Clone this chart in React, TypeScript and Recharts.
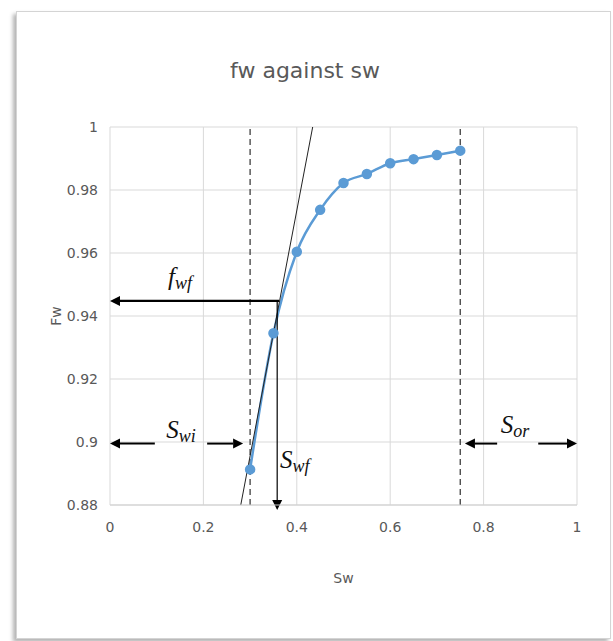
import {
  LineChart,
  Line,
  XAxis,
  YAxis,
  CartesianGrid,
  ReferenceLine,
  ReferenceDot,
  Label,
} from 'recharts';

// water saturation and fractional flow
const swValues = [0.3, 0.35, 0.4, 0.45, 0.5, 0.55, 0.6, 0.65, 0.7, 0.75];
const fwValues = [0.8913, 0.9345, 0.9604, 0.9737, 0.9822, 0.9851, 0.9885, 0.9898, 0.9911, 0.9925];

const xTicks = [0, 0.2, 0.4, 0.6, 0.8, 1];
const yTicks = [0.88, 0.9, 0.92, 0.94, 0.96, 0.98, 1];

// Swi and Sor marks
const dashedX = [0.3, 0.75];

// tangent from Swi through the front point
const tangentFrom = { x: 0.28, y: 0.88 };
const tangentTo = { x: 0.434, y: 1 };

// arrows: [fromX, fromY, toX, toY, width]
const arrows: number[][] = [
  [0.362, 0.9448, 0, 0.9448, 2.2],
  [0.358, 0.9448, 0.358, 0.8784, 1.2],
  [0.096, 0.8995, 0, 0.8995, 2],
  [0.208, 0.8995, 0.285, 0.8995, 2],
  [0.829, 0.8995, 0.76, 0.8995, 2],
  [0.917, 0.8995, 1, 0.8995, 2],
];

// annotation texts: [main, subscript, x, y, anchor]
const notes: [string, string, number, number, string][] = [
  ['f', 'wf', 0.15, 0.9498, 'middle'],
  ['S', 'wi', 0.152, 0.9013, 'middle'],
  ['S', 'wf', 0.364, 0.8917, 'start'],
  ['S', 'or', 0.867, 0.9029, 'middle'],
];

const rows = swValues.map((sw, i) => ({ sw, fw: fwValues[i] }));

const font = "'DejaVu Sans', sans-serif";
const grey = '#595959';

const arrowShape = (w: number) => (props: any) => {
  const { x1, y1, x2, y2 } = props;
  const dx = x2 - x1;
  const dy = y2 - y1;
  const len = Math.hypot(dx, dy) || 1;
  const ux = dx / len;
  const uy = dy / len;
  const head = 10;
  const half = 5;
  const bx = x2 - ux * head;
  const by = y2 - uy * head;
  return (
    <g>
      <line x1={x1} y1={y1} x2={bx} y2={by} stroke="#000" strokeWidth={w} />
      <polygon
        points={`${x2},${y2} ${bx - uy * half},${by + ux * half} ${bx + uy * half},${by - ux * half}`}
        fill="#000"
      />
    </g>
  );
};

const noteShape = (main: string, sub: string, anchor: string) => (props: any) => (
  <text
    x={props.cx}
    y={props.cy}
    textAnchor={anchor as any}
    fontFamily="'Liberation Serif', 'DejaVu Serif', serif"
    fontStyle="italic"
    fill="#111"
  >
    <tspan fontSize={25}>{main}</tspan>
    <tspan fontSize={18} dy={4}>{sub}</tspan>
  </text>
);

const tickStyle = { fill: grey, fontSize: 14, fontFamily: font };

export default function App() {
  return (
    <div style={{ position: 'absolute', left: 0, top: 0, width: 613, height: 641, background: '#fff' }}>
      <div
        style={{
          position: 'absolute',
          left: 16,
          top: 11,
          width: 593,
          height: 626,
          border: '1px solid #d4d4d4',
          boxShadow: '-3px 3px 4px rgba(0,0,0,0.3)',
          background: '#fff',
        }}
      />
      <div
        style={{
          position: 'absolute',
          left: 0,
          top: 60,
          width: 610,
          textAlign: 'center',
          fontFamily: font,
          fontSize: 22,
          lineHeight: 1,
          color: grey,
        }}
      >
        fw against sw
      </div>
      <div style={{ position: 'absolute', left: 0, top: 0 }}>
        <LineChart width={613} height={641} data={rows} margin={{ top: 127, right: 36, bottom: 76, left: 60 }}>
          <CartesianGrid stroke="#d9d9d9" />
          <XAxis
            type="number"
            dataKey="sw"
            domain={[0, 1]}
            ticks={xTicks}
            height={60}
            axisLine={{ stroke: '#d0d0d0' }}
            tickLine={false}
            tickMargin={11}
            tick={tickStyle}
          >
            <Label value="Sw" position="bottom" offset={8} fill={grey} fontSize={14} fontFamily={font} />
          </XAxis>
          <YAxis
            type="number"
            domain={[0.88, 1]}
            ticks={yTicks}
            width={50}
            axisLine={false}
            tickLine={false}
            tickMargin={6}
            tick={tickStyle}
          >
            <Label value="Fw" position="center" angle={-90} dx={-29} fill={grey} fontSize={14} fontFamily={font} />
          </YAxis>
          {dashedX.map((x) => (
            <ReferenceLine key={x} x={x} stroke="#404040" strokeWidth={1.3} strokeDasharray="6 4" />
          ))}
          <Line
            type="monotone"
            dataKey="fw"
            stroke="#5b9bd5"
            strokeWidth={2.5}
            dot={{ r: 4, fill: '#5b9bd5', stroke: '#5b9bd5' }}
            isAnimationActive={false}
          />
          <ReferenceLine segment={[tangentFrom, tangentTo]} stroke="#222" strokeWidth={1} ifOverflow="visible" />
          {arrows.map((a, i) => (
            <ReferenceLine
              key={'a' + i}
              segment={[{ x: a[0], y: a[1] }, { x: a[2], y: a[3] }]}
              shape={arrowShape(a[4])}
              ifOverflow="visible"
            />
          ))}
          {notes.map((n, i) => (
            <ReferenceDot key={'n' + i} x={n[2]} y={n[3]} r={0} shape={noteShape(n[0], n[1], n[4])} ifOverflow="visible" />
          ))}
        </LineChart>
      </div>
    </div>
  );
}
